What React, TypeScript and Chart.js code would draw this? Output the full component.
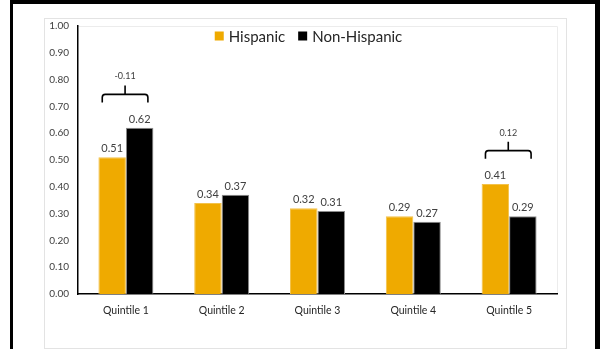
import React, { useEffect, useRef } from "react";
import { Chart, registerables } from "chart.js";

Chart.register(...registerables);

const categories = ["Quintile 1", "Quintile 2", "Quintile 3", "Quintile 4", "Quintile 5"];
const hispanic = [0.51, 0.34, 0.32, 0.29, 0.41];
const nonHispanic = [0.62, 0.37, 0.31, 0.27, 0.29];
const seriesNames = ["Hispanic", "Non-Hispanic"];
const seriesColors = ["#EFAA00", "#000000"];
const braceCategoryIndex = [0, 4];
const braceLabels = ["-0.11", "0.12"];
const yMin = 0;
const yMax = 1;
const yStep = 0.1;

const FONT = "Lato, 'Open Sans', sans-serif";

const plotFramePlugin = {
  id: "plotFrame",
  beforeDraw(chart: any) {
    const { ctx, chartArea } = chart;
    ctx.save();
    ctx.strokeStyle = "#ececec";
    ctx.lineWidth = 1;
    ctx.beginPath();
    ctx.moveTo(chartArea.left, chartArea.top + 0.5);
    ctx.lineTo(chartArea.right + 0.5, chartArea.top + 0.5);
    ctx.lineTo(chartArea.right + 0.5, chartArea.bottom);
    ctx.stroke();
    ctx.restore();
  },
};

const valueLabelPlugin = {
  id: "valueLabels",
  afterDatasetsDraw(chart: any) {
    const { ctx } = chart;
    ctx.save();
    ctx.font = `11px ${FONT}`;
    ctx.fillStyle = "#404040";
    ctx.textAlign = "center";
    ctx.textBaseline = "bottom";
    chart.data.datasets.forEach((ds: any, di: number) => {
      const meta = chart.getDatasetMeta(di);
      meta.data.forEach((bar: any, i: number) => {
        ctx.fillText(Number(ds.data[i]).toFixed(2), bar.x, bar.y - 3);
      });
    });
    ctx.restore();
  },
};

const bracePlugin = {
  id: "braces",
  afterDatasetsDraw(chart: any) {
    const { ctx } = chart;
    const y = chart.scales.y;
    const m0 = chart.getDatasetMeta(0);
    const m1 = chart.getDatasetMeta(1);
    ctx.save();
    braceCategoryIndex.forEach((ci, k) => {
      const b0 = m0.data[ci];
      const b1 = m1.data[ci];
      const left = b0.x - b0.width * 0.36;
      const right = b1.x + b1.width * 0.3;
      const cx = (left + right) / 2;
      const top = Math.max(hispanic[ci], nonHispanic[ci]);
      const yEnd = y.getPixelForValue(top + 0.095);
      const yH = yEnd - 8;
      const r = 3;
      ctx.strokeStyle = "#000";
      ctx.lineWidth = 1.6;
      ctx.beginPath();
      ctx.moveTo(left, yEnd);
      ctx.lineTo(left, yH + r);
      ctx.quadraticCurveTo(left, yH, left + r, yH);
      ctx.lineTo(right - r, yH);
      ctx.quadraticCurveTo(right, yH, right, yH + r);
      ctx.lineTo(right, yEnd);
      ctx.moveTo(cx, yH);
      ctx.lineTo(cx, yH - 9);
      ctx.stroke();
      ctx.font = `9px ${FONT}`;
      ctx.fillStyle = "#404040";
      ctx.textAlign = "center";
      ctx.textBaseline = "middle";
      ctx.fillText(braceLabels[k], cx, yH - 18);
    });
    ctx.restore();
  },
};

const legendPlugin = {
  id: "customLegend",
  afterDraw(chart: any) {
    const { ctx, chartArea } = chart;
    ctx.save();
    ctx.font = `15px ${FONT}`;
    const box = 9;
    const gap = 5;
    const itemGap = 13;
    const widths = seriesNames.map((n) => ctx.measureText(n).width);
    const total = widths.reduce((a, w) => a + box + gap + w, 0) + itemGap * (seriesNames.length - 1);
    let x = (chartArea.left + chartArea.right) / 2 - 9 - total / 2;
    const cy = chartArea.top + 10;
    ctx.textBaseline = "middle";
    ctx.textAlign = "left";
    seriesNames.forEach((n, i) => {
      ctx.fillStyle = seriesColors[i];
      ctx.fillRect(x, cy - box / 2, box, box);
      x += box + gap;
      ctx.fillStyle = "#262626";
      ctx.fillText(n, x, cy + 1);
      x += widths[i] + itemGap;
    });
    ctx.restore();
  },
};

export default function App() {
  const ref = useRef<HTMLCanvasElement | null>(null);

  useEffect(() => {
    if (!ref.current) return;
    const chart = new Chart(ref.current, {
      type: "bar",
      data: {
        labels: categories,
        datasets: [
          {
            label: seriesNames[0],
            data: hispanic,
            backgroundColor: seriesColors[0],
            borderColor: "#f3c24a",
            borderWidth: 1,
            categoryPercentage: 0.574,
            barPercentage: 1,
          },
          {
            label: seriesNames[1],
            data: nonHispanic,
            backgroundColor: seriesColors[1],
            borderColor: "#8c8c8c",
            borderWidth: 1,
            categoryPercentage: 0.574,
            barPercentage: 1,
          },
        ],
      },
      options: {
        animation: false,
        responsive: true,
        maintainAspectRatio: false,
        layout: { padding: { left: 30, right: 43, top: 26, bottom: 25 } },
        plugins: { legend: { display: false }, tooltip: { enabled: false } },
        scales: {
          x: {
            grid: { display: false, drawTicks: false },
            border: { display: true, color: "#000", width: 1.5 },
            ticks: { color: "#262626", font: { family: FONT, size: 10.5 }, padding: 10, maxRotation: 0 },
            afterFit(scale: any) {
              scale.height = 30;
            },
          },
          y: {
            min: yMin,
            max: yMax,
            grid: { display: false, drawTicks: false },
            border: { display: true, color: "#000", width: 1.5 },
            ticks: {
              stepSize: yStep,
              color: "#404040",
              font: { family: FONT, size: 10 },
              padding: 9,
              callback: (v: any) => Number(v).toFixed(2),
            },
            afterFit(scale: any) {
              scale.width = 48;
            },
          },
        },
      },
      plugins: [plotFramePlugin, valueLabelPlugin, bracePlugin, legendPlugin],
    });
    return () => chart.destroy();
  }, []);

  return (
    <div style={{ position: "fixed", left: 0, top: 0, width: 600, height: 349, background: "#fff", overflow: "hidden" }}>
      <div
        style={{
          position: "absolute",
          left: 10,
          top: 0,
          width: 585,
          height: 400,
          borderLeft: "3px solid #000",
          borderTop: "4px solid #000",
          borderRight: "5px solid #000",
          boxSizing: "border-box",
          width: 590,
        } as any}
      />
      <div
        style={{
          position: "absolute",
          left: 44,
          top: 18,
          width: 523,
          height: 331,
          border: "1px solid #e3e3e3",
          boxSizing: "border-box",
        }}
      />
      <div style={{ position: "absolute", left: 0, top: 0, width: 600, height: 349 }}>
        <canvas ref={ref} />
      </div>
    </div>
  );
}
